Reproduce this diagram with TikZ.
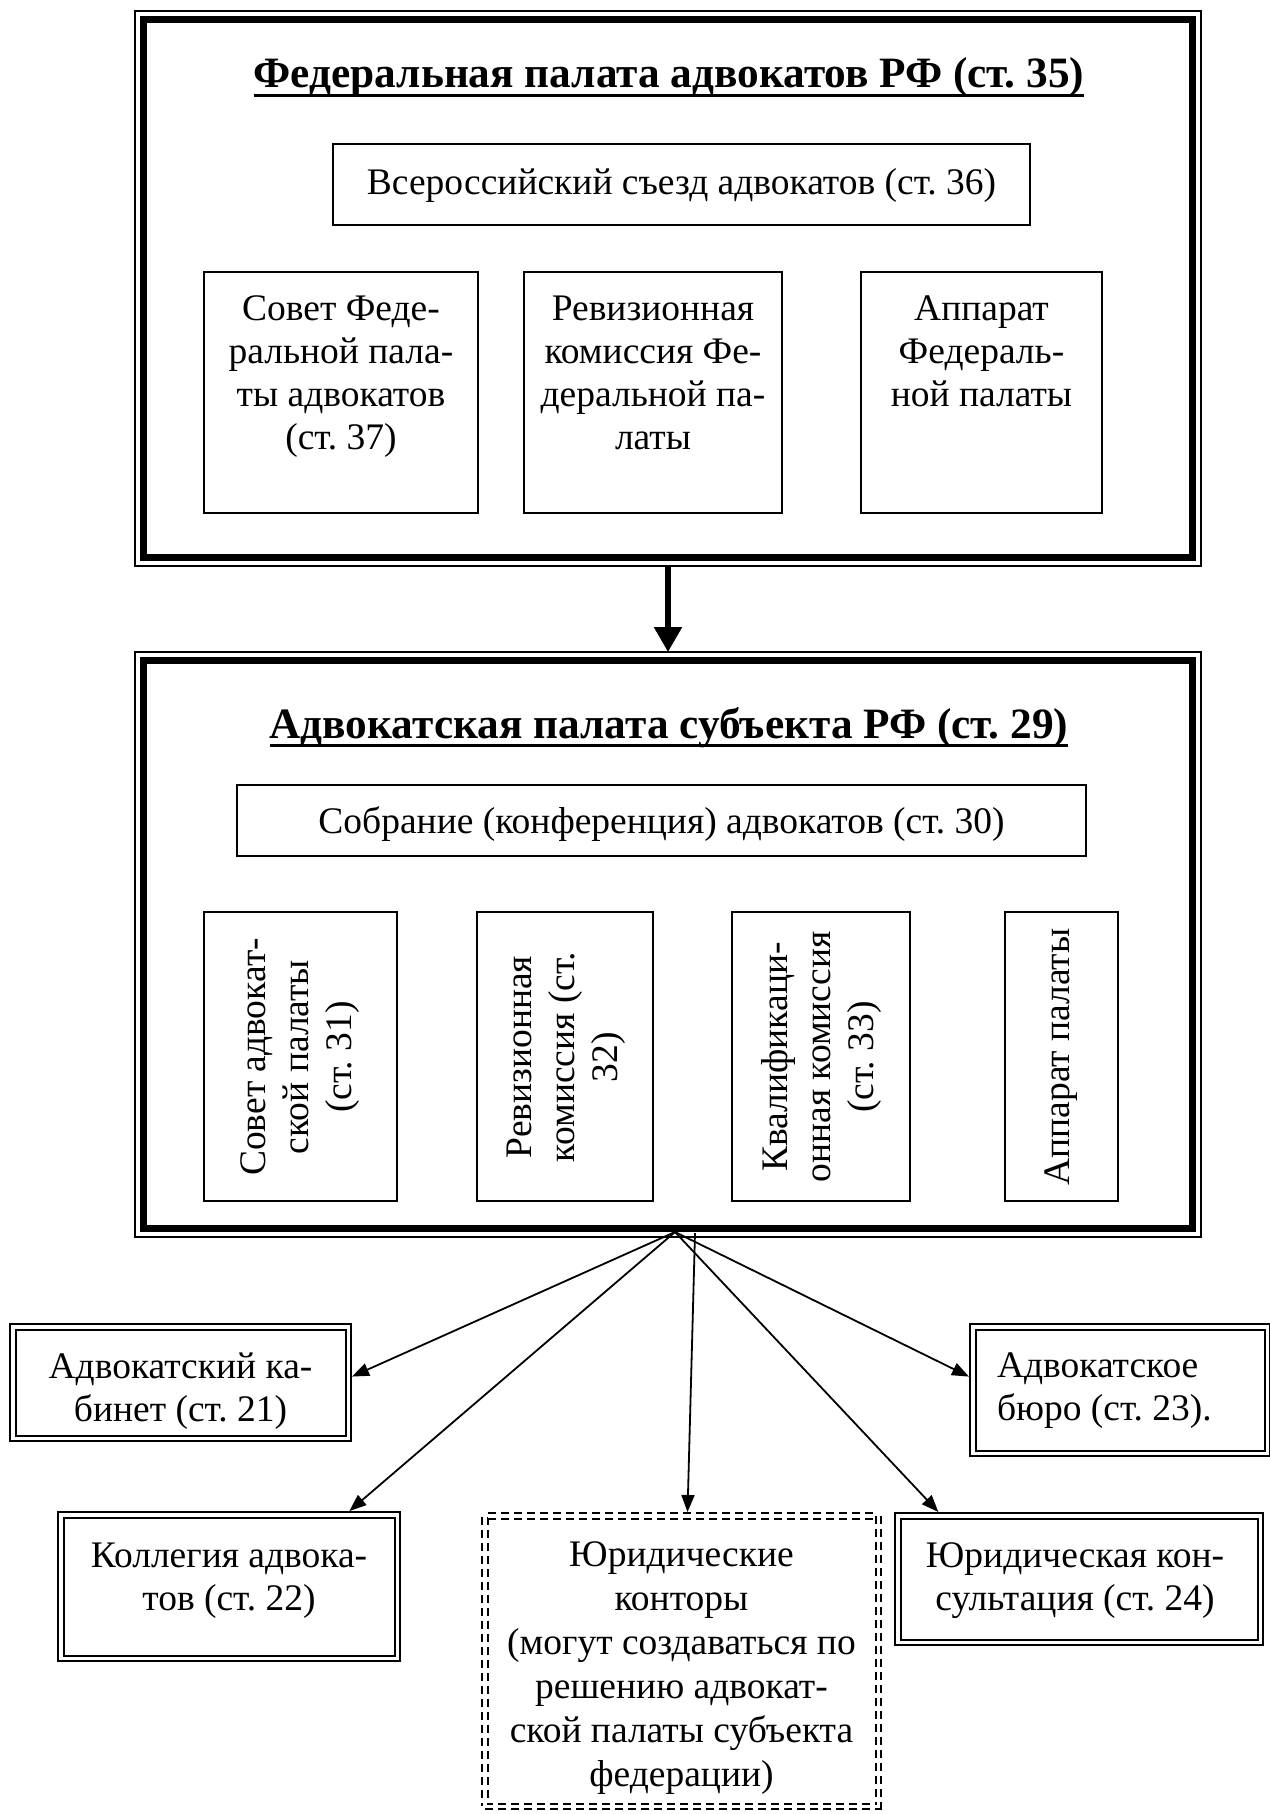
\documentclass[tikz,border=0pt]{standalone}
\usepackage{fontspec}
\setmainfont{Liberation Serif}
\usetikzlibrary{arrows.meta,calc}
\begin{document}
\begin{tikzpicture}[x=1pt,y=-1pt,
  every node/.style={inner sep=0pt, outer sep=0pt},
  fnt/.style={font=\fontsize{37.5}{43}\selectfont},
  ttl/.style={font=\fontsize{43.3}{50}\selectfont\bfseries, anchor=base},
  frame/.style={draw, line width=1.5pt},
  box/.style={draw, line width=1.6pt},
  dbox/.style={draw, line width=2pt, double, double distance=3.5pt, outer sep=3.75pt},
  txt/.style={fnt, align=center, anchor=north, execute at begin node=\strut},
  one/.style={fnt, anchor=base},
  rot/.style={fnt, align=center, rotate=90},
  arr/.style={line width=1.8pt, -{Triangle[length=17pt,width=13pt]}},
  bigarr/.style={line width=5.5pt, -{Triangle[length=25pt,width=27pt]}}
]
\fill[white] (0,0) rectangle (1269,1814);
\useasboundingbox (0,0) rectangle (1269,1814);

% ---------- Federal chamber frame ----------
\node[frame, minimum width=1066pt, minimum height=555pt] (fed) at (668,288.5) {};
\draw[line width=7pt] ([shift={(8.5pt,-8.5pt)}]fed.north west) rectangle ([shift={(-8.5pt,8.5pt)}]fed.south east);
\node[ttl] (t1) at (669,88) {Федеральная палата адвокатов РФ (ст.~35)};
\draw[line width=3.8pt] ([yshift=-7.5pt]t1.base west) -- ([yshift=-7.5pt]t1.base east);

\node[box, minimum width=697pt, minimum height=81pt] (vs) at (681.5,184.5) {};
\node[one] (tvs) at (681.5,194) {Всероссийский съезд адвокатов (ст.~36)};

\node[box, minimum width=274pt, minimum height=241pt] (sov1) at (341,392.5) {};
\node[txt] (tsov1) at (341,296) {Совет Феде-\\ральной пала-\\ты адвокатов\\(ст.~37)};
\node[box, minimum width=258pt, minimum height=241pt] (rev1) at (653,392.5) {};
\node[txt] (trev1) at (653,296) {Ревизионная\\комиссия Фе-\\деральной па-\\латы};
\node[box, minimum width=241pt, minimum height=241pt] (app1) at (981.5,392.5) {};
\node[txt] (tapp1) at (981.5,296) {Аппарат\\Федераль-\\ной палаты};

% ---------- Regional chamber frame ----------
\node[frame, minimum width=1066pt, minimum height=585pt] (adv) at (668,944.5) {};
\draw[line width=7pt] ([shift={(8.5pt,-8.5pt)}]adv.north west) rectangle ([shift={(-8.5pt,8.5pt)}]adv.south east);
\node[ttl] (t2) at (669,738) {Адвокатская палата субъекта РФ (ст.~29)};
\draw[line width=3.8pt] ([yshift=-7.5pt]t2.base west) -- ([yshift=-7.5pt]t2.base east);

\draw[bigarr] (fed.south) -- (adv.north);

\node[box, minimum width=849pt, minimum height=71pt] (sobr) at (661.5,820.5) {};
\node[one] (tsobr) at (661.5,833) {Собрание (конференция) адвокатов (ст.~30)};

\node[box, minimum width=193pt, minimum height=289pt] (sov2) at (300.5,1056.5) {};
\node[rot] (tsov2) at (300,1057) {Совет адвокат-\\ской палаты\\(ст.~31)};
\node[box, minimum width=176pt, minimum height=289pt] (rev2) at (565,1056.5) {};
\node[rot] (trev2) at (566,1057) {Ревизионная\\комиссия (ст.\\32)};
\node[box, minimum width=178pt, minimum height=289pt] (kval) at (821,1056.5) {};
\node[rot] (tkval) at (821,1057) {Квалификаци-\\онная комиссия\\(ст.~33)};
\node[box, minimum width=113pt, minimum height=289pt] (app2) at (1061.5,1056.5) {};
\node[rot] (tapp2) at (1061.5,1057) {Аппарат палаты};

% ---------- Forms of advocate formations ----------
\coordinate (hub) at (675,1232);
\coordinate (hub2) at (695,1233);

\node[dbox, minimum width=335.5pt, minimum height=111.5pt] (kab) at (180.5,1382.5) {};
\node[txt] (tkab) at (180.5,1353) {Адвокатский ка-\\бинет (ст.~21)};

\node[dbox, minimum width=336.5pt, minimum height=143.5pt] (kol) at (229,1586.5) {};
\node[txt] (tkol) at (229,1543) {Коллегия адвока-\\тов (ст.~22)};

\node[dbox, dash pattern=on 8pt off 5pt, minimum width=393.5pt, minimum height=290.5pt] (jur) at (681.5,1661) {};
\node[txt, font=\fontsize{37.5}{44}\selectfont] (tjur) at (681.5,1542) {Юридические\\конторы\\(могут создаваться по\\решению адвокат-\\ской палаты субъекта\\федерации)};

\node[dbox, minimum width=362.5pt, minimum height=126.5pt] (kons) at (1079,1579) {};
\node[txt] (tkons) at (1075,1543) {Юридическая кон-\\сультация (ст.~24)};

\node[dbox, minimum width=294.5pt, minimum height=126.5pt] (bur) at (1120,1390) {};
\node[txt, align=left, anchor=north west] (tbur) at (997,1353) {Адвокатское\\бюро (ст.~23).};

\draw[arr] (hub) -- ($(kab.north east)!0.45!(kab.south east)$);
\draw[arr] (hub) -- ($(kol.north)!0.7!(kol.north east)$);
\draw[arr] (hub2) -- ($(jur.north west)!0.515!(jur.north east)$);
\draw[arr] (hub) -- ($(kons.north west)!0.12!(kons.north east)$);
\draw[arr] (hub) -- ($(bur.north west)!0.4!(bur.south west)$);
\end{tikzpicture}
\end{document}
